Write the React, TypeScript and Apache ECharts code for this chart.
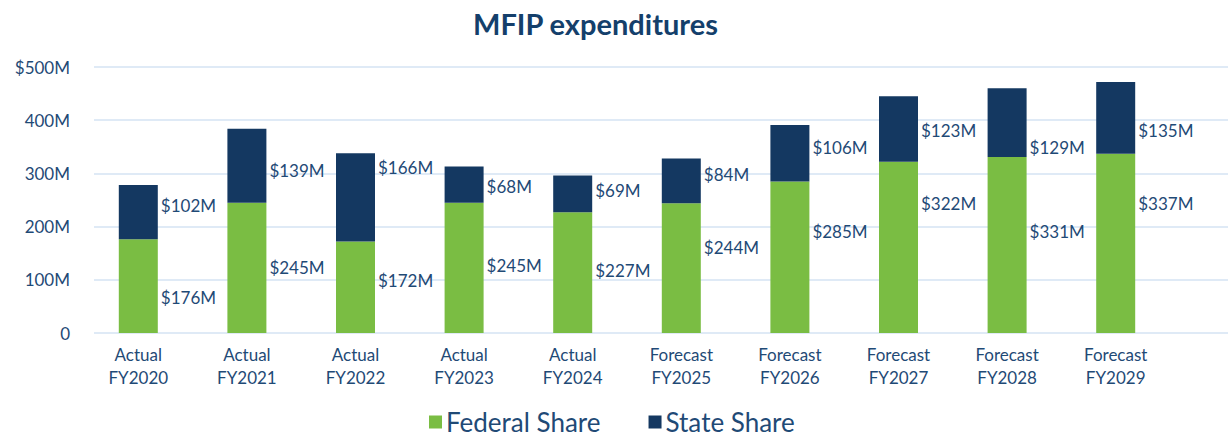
import React, { useEffect, useRef } from 'react';
import * as echarts from 'echarts';

const categories = [
  'Actual\nFY2020', 'Actual\nFY2021', 'Actual\nFY2022', 'Actual\nFY2023', 'Actual\nFY2024',
  'Forecast\nFY2025', 'Forecast\nFY2026', 'Forecast\nFY2027', 'Forecast\nFY2028', 'Forecast\nFY2029',
];
const federalShare = [176, 245, 172, 245, 227, 244, 285, 322, 331, 337];
const stateShare = [102, 139, 166, 68, 69, 84, 106, 123, 129, 135];
const yMax = 500;
const yInterval = 100;

// label vertical nudges (px) relative to segment centre, as placed in the original
const federalLabelShift = [11, 0, -7, -2, -2, -21, -26, -44, -13, -40];
const stateLabelShift = [-7, 5, -30, 2, -3, -6, -6, 2, 25, 13];

const FONT = 'Lato';
const TEXT = '#1f4a76';
const GREEN = '#7abd43';
const NAVY = '#143861';

export default function App() {
  const ref = useRef<HTMLDivElement>(null);
  useEffect(() => {
    if (!ref.current) return;
    const chart = echarts.init(ref.current, null, { renderer: 'svg' });
    const labelBase = {
      show: true,
      position: 'right',
      distance: 3,
      color: TEXT,
      fontFamily: FONT,
      fontSize: 17,
      formatter: (p: any) => '$' + p.value + 'M',
    };
    chart.setOption({
      animation: false,
      backgroundColor: '#ffffff',
      title: {
        text: 'MFIP expenditures',
        left: 468,
        top: 4,
        textStyle: { fontFamily: FONT, fontWeight: 'bold', fontSize: 29, color: '#143f6b' },
      },
      legend: {
        left: 424,
        top: 404,
        itemWidth: 13,
        itemHeight: 13,
        itemGap: 48,
        icon: 'rect',
        textStyle: { fontFamily: FONT, fontSize: 26, color: TEXT, padding: [0, 0, 0, -1] },
        data: ['Federal Share', 'State Share'],
      },
      grid: [
        { left: 84, right: 58, top: 67, bottom: 104 },
        { left: 94, right: 0, top: 67, bottom: 104 },
      ],
      xAxis: [
        {
          type: 'category',
          gridIndex: 0,
          data: categories,
          axisLine: { show: false },
          axisTick: { show: false },
          axisLabel: { color: TEXT, fontFamily: FONT, fontSize: 17, lineHeight: 23, margin: 10 },
        },
        {
          type: 'category',
          gridIndex: 1,
          data: categories,
          show: false,
        },
      ],
      yAxis: [
        {
          type: 'value',
          gridIndex: 0,
          min: 0,
          max: yMax,
          interval: yInterval,
          show: false,
          splitLine: { show: false },
        },
        {
          type: 'value',
          gridIndex: 1,
          min: 0,
          max: yMax,
          interval: yInterval,
          axisLine: { show: false },
          axisTick: { show: false },
          splitLine: { show: true, lineStyle: { color: '#dfeaf6', width: 2 } },
          axisLabel: {
            margin: 24,
            color: TEXT,
            fontFamily: FONT,
            fontSize: 17,
            formatter: (v: number) => (v === 0 ? '0' : v === yMax ? '$' + v + 'M' : v + 'M'),
          },
        },
      ],
      series: [
        {
          name: 'Federal Share',
          type: 'bar',
          stack: 'total',
          xAxisIndex: 0,
          yAxisIndex: 0,
          barWidth: 39,
          itemStyle: { color: GREEN },
          z: 3,
          data: federalShare.map((v, i) => ({
            value: v,
            label: { ...labelBase, offset: [0, federalLabelShift[i]] },
          })),
          label: labelBase,
        },
        {
          name: 'State Share',
          type: 'bar',
          stack: 'total',
          xAxisIndex: 0,
          yAxisIndex: 0,
          barWidth: 39,
          itemStyle: { color: NAVY },
          z: 3,
          data: stateShare.map((v, i) => ({
            value: v,
            label: { ...labelBase, offset: [0, stateLabelShift[i]] },
          })),
          label: labelBase,
        },
      ],
    });
    return () => chart.dispose();
  }, []);
  return (
    <div
      ref={ref}
      style={{ position: 'fixed', left: 0, top: 0, width: 1228, height: 437, background: '#fff' }}
    />
  );
}
